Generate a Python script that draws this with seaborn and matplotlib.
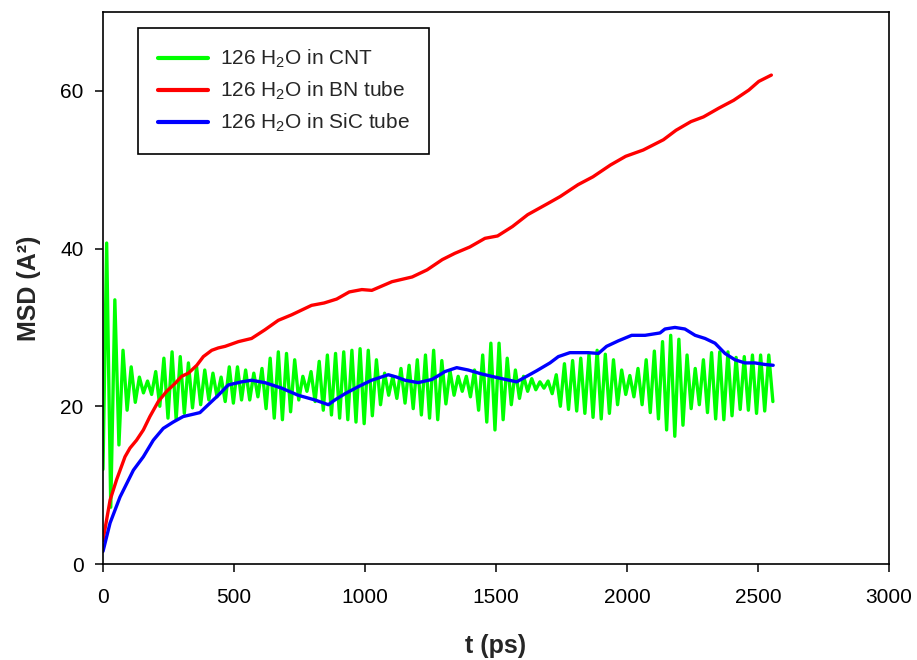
import numpy as np
import pandas as pd
import seaborn as sns
import matplotlib
matplotlib.use("Agg")
import matplotlib.pyplot as plt

# ---- BN tube (red) ----
bn_t = [0, 27, 52, 84, 103, 128, 154, 179, 211, 243, 275, 300, 326, 358, 383, 415,
        440, 466, 517, 567, 618, 669, 720, 796, 844, 892, 940, 988, 1026, 1103, 1180,
        1237, 1295, 1343, 1400, 1458, 1506, 1563, 1621, 1697, 1745, 1813, 1870, 1937,
        1995, 2062, 2139, 2187, 2244, 2292, 2350, 2407, 2465, 2503, 2551]
bn_msd = [3.0, 8.1, 10.7, 13.6, 14.7, 15.7, 17.0, 18.7, 20.6, 21.9, 22.9, 23.8, 24.2,
          25.2, 26.3, 27.1, 27.4, 27.6, 28.2, 28.6, 29.7, 30.9, 31.6, 32.8, 33.1, 33.6,
          34.5, 34.8, 34.7, 35.8, 36.4, 37.3, 38.6, 39.4, 40.2, 41.3, 41.6, 42.8, 44.3,
          45.7, 46.6, 48.1, 49.1, 50.6, 51.7, 52.5, 53.8, 55.0, 56.1, 56.7, 57.8, 58.8,
          60.1, 61.2, 62.0]

# ---- SiC tube (blue) ----
sic_t = [0, 27, 65, 116, 154, 192, 230, 268, 306, 345, 370, 408, 440, 478, 529, 567,
         618, 682, 745, 809, 860, 885, 924, 975, 1025, 1089, 1121, 1153, 1203, 1255,
         1286, 1305, 1350, 1394, 1445, 1509, 1579, 1617, 1655, 1706, 1738, 1782, 1852,
         1891, 1922, 1967, 2018, 2069, 2126, 2145, 2183, 2221, 2260, 2298, 2336, 2374,
         2412, 2450, 2488, 2527, 2558]
sic_msd = [1.6, 5.2, 8.5, 11.9, 13.6, 15.7, 17.2, 18.0, 18.7, 19.0, 19.2, 20.4, 21.4,
           22.7, 23.1, 23.3, 23.0, 22.3, 21.4, 20.8, 20.2, 20.8, 21.6, 22.5, 23.3, 24.0,
           23.7, 23.3, 23.0, 23.4, 24.0, 24.4, 24.9, 24.6, 24.1, 23.6, 23.1, 23.8, 24.5,
           25.5, 26.3, 26.8, 26.8, 26.7, 27.6, 28.3, 29.0, 29.0, 29.3, 29.8, 30.0, 29.8,
           29.0, 28.6, 28.0, 26.7, 25.9, 25.5, 25.5, 25.3, 25.2]

# ---- CNT (green): oscillating MSD, maxima and minima of each cycle ----
cnt_start = 12.0           # value at t = 0
cnt_first_ext_t = 14.0     # time of the first maximum (ps)
cnt_half_period = 15.6     # spacing between successive extrema (ps)
cnt_max = [40.7, 33.5, 27.1, 25.0, 23.7, 23.2, 24.4, 26.1, 26.9, 26.3,
           25.5, 25.0, 24.6, 24.2, 23.7, 25.0, 25.0, 24.6, 24.2, 24.8,
           26.1, 26.9, 26.7, 25.9, 23.8, 24.4, 25.7, 26.5, 26.7, 26.9,
           27.1, 27.3, 27.1, 25.9, 24.2, 23.8, 24.8, 25.2, 25.9, 26.5,
           27.1, 25.8, 24.5, 23.8, 23.8, 24.6, 26.5, 28.0, 28.0, 26.1,
           24.6, 23.8, 23.5, 23.1, 23.2, 24.0, 25.4, 25.8, 26.1, 26.6,
           27.1, 26.6, 25.9, 24.6, 23.9, 24.8, 25.9, 27.0, 28.2, 29.0,
           28.5, 26.5, 24.8, 25.9, 26.8, 26.9, 26.9, 26.2, 26.3, 26.5,
           26.5, 26.5]
cnt_min = [7.2, 15.1, 19.5, 20.5, 21.7, 21.5, 20.0, 18.5, 18.3, 19.1,
           19.8, 20.2, 20.8, 21.2, 20.6, 20.4, 20.8, 20.8, 21.2, 19.7,
           18.5, 18.3, 19.3, 20.8, 21.9, 20.6, 19.5, 18.9, 18.5, 18.3,
           18.0, 17.8, 18.8, 20.2, 21.4, 21.0, 20.4, 19.7, 18.9, 18.5,
           18.3, 20.3, 21.4, 21.9, 21.2, 19.5, 18.0, 17.0, 18.3, 20.2,
           21.0, 21.9, 22.1, 22.3, 21.6, 20.0, 19.6, 19.4, 19.1, 18.6,
           18.4, 19.1, 20.2, 21.5, 21.2, 20.2, 19.2, 18.4, 17.0, 16.2,
           17.6, 19.7, 20.2, 19.2, 18.4, 18.3, 18.8, 19.6, 19.5, 19.1,
           19.4, 20.6]

labels = ["126 H$_2$O in CNT", "126 H$_2$O in BN tube", "126 H$_2$O in SiC tube"]
colors = ["#00ff00", "#ff0000", "#0000ff"]
x_ticks = [0, 500, 1000, 1500, 2000, 2500, 3000]
y_ticks = [0, 20, 40, 60]

# assemble the CNT series: start value, then max/min alternating
cnt_vals = [cnt_start]
for hi, lo in zip(cnt_max, cnt_min):
    cnt_vals += [hi, lo]
cnt_t = [0.0] + [cnt_first_ext_t + cnt_half_period * i for i in range(len(cnt_vals) - 1)]

df = pd.concat([
    pd.DataFrame({"t": cnt_t, "msd": cnt_vals, "system": labels[0]}),
    pd.DataFrame({"t": bn_t, "msd": bn_msd, "system": labels[1]}),
    pd.DataFrame({"t": sic_t, "msd": sic_msd, "system": labels[2]}),
], ignore_index=True)

sns.set_style("ticks")
plt.rcParams["font.family"] = ["Liberation Sans", "DejaVu Sans"]
plt.rcParams["mathtext.fontset"] = "custom"
plt.rcParams["mathtext.rm"] = "Liberation Sans"
plt.rcParams["mathtext.it"] = "Liberation Sans:italic"
plt.rcParams["mathtext.bf"] = "Liberation Sans:bold"

fig = plt.figure(figsize=(9.17, 6.6), dpi=100)
ax = fig.add_axes([103 / 917, 96 / 660, 786 / 917, 552 / 660])

sns.lineplot(data=df, x="t", y="msd", hue="system", palette=dict(zip(labels, colors)),
             hue_order=labels, sort=False, estimator=None, linewidth=2.4, ax=ax)

ax.set_xlim(0, 3000)
ax.set_ylim(0, 70)
ax.set_xticks(x_ticks)
ax.set_yticks(y_ticks)
ax.tick_params(axis="x", direction="out", length=6, width=1.1, labelsize=15, pad=11,
               colors="black")
ax.tick_params(axis="y", direction="out", length=6, width=1.1, labelsize=15, pad=8,
               colors="black")
for s in ax.spines.values():
    s.set_visible(True)
    s.set_linewidth(1.2)
    s.set_color("black")

ax.set_xlabel("t (ps)", fontsize=18, fontweight="bold", labelpad=20)
ax.set_ylabel("MSD (A²)", fontsize=18, fontweight="bold", labelpad=14)

leg = ax.legend(loc="upper left", bbox_to_anchor=((138 - 103) / 786, (564 - 28) / 552),
                borderaxespad=0, fontsize=15, frameon=True, fancybox=False,
                handlelength=2.4, handletextpad=0.58, labelspacing=0.47, borderpad=0.95,
                title=None)
leg.get_frame().set_edgecolor("black")
leg.get_frame().set_linewidth(1.2)
leg.get_frame().set_alpha(1)
for h in leg.get_lines():
    h.set_linewidth(3)

fig.savefig("out.png", dpi=100)
